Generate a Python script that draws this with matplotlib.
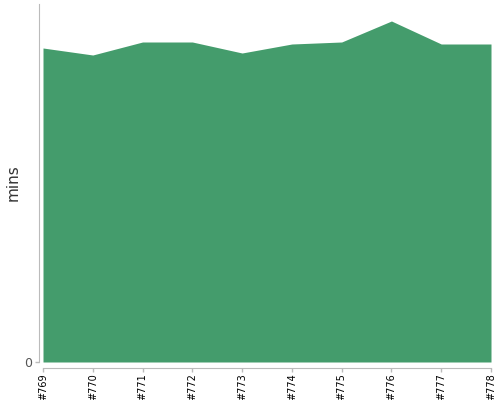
import numpy as np
import matplotlib.pyplot as plt

builds = ["#769", "#770", "#771", "#772", "#773", "#774", "#775", "#776", "#777", "#778"]
mins = [31.4, 30.7, 32.0, 32.0, 30.9, 31.8, 32.0, 34.1, 31.8, 31.8]
y_top = 35.8

fig = plt.figure(figsize=(5, 4), dpi=100)
ax = fig.add_axes([43 / 500, 38 / 400, 448 / 500, 358 / 400])

x = np.arange(len(builds))
ax.fill_between(x, 0, mins, color="#449c6c", linewidth=0)

ax.set_xlim(0, len(builds) - 1)
ax.set_ylim(0, y_top)
ax.set_xticks(x, builds)
ax.set_yticks([0], ["0"])
fig.text(13 / 500, 1 - 183 / 400, "mins", rotation=90, fontsize=11,
         color="#333333", ha="center", va="center")

for side in ["top", "right"]:
    ax.spines[side].set_visible(False)
ax.spines["left"].set_position(("outward", 3))
ax.spines["bottom"].set_position(("outward", 4))
for side in ["left", "bottom"]:
    ax.spines[side].set_color("#bbbbbb")
ax.tick_params(axis="both", colors="#bbbbbb", length=3, width=1)
ax.tick_params(axis="x", labelcolor="black", labelrotation=90, labelsize=7, pad=1)
ax.tick_params(axis="y", labelcolor="#555555", labelsize=9, pad=2)

fig.savefig("out.png", dpi=100)
